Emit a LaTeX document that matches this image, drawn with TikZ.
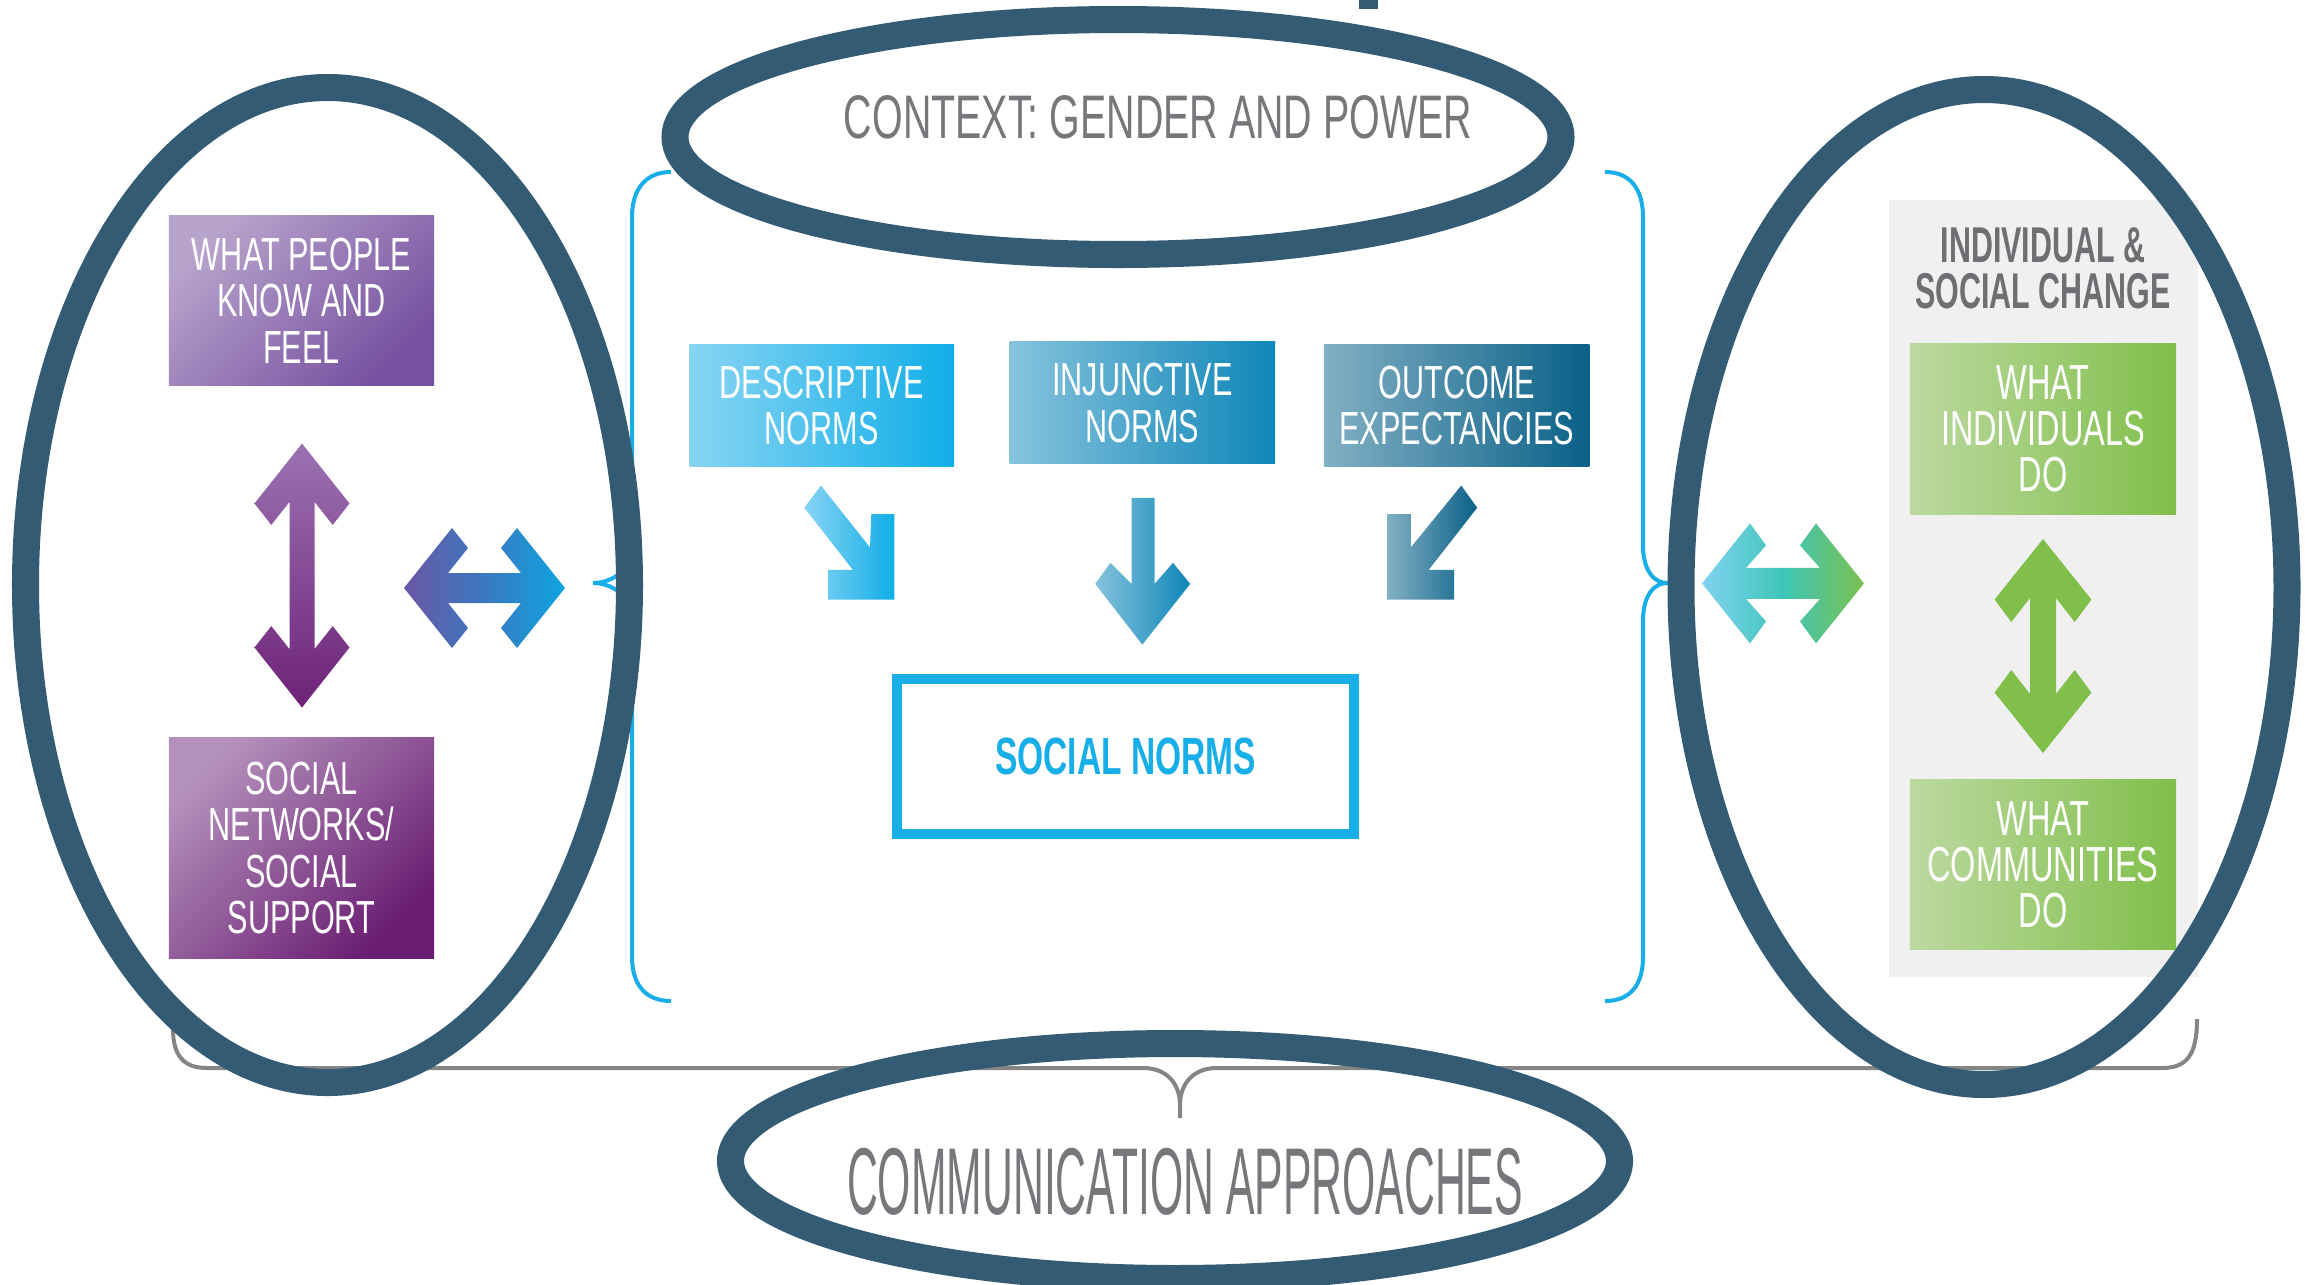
\documentclass[tikz,border=0pt]{standalone}
\usepackage{fontspec}
\setmainfont{Liberation Sans}
\newfontfamily\cnd[FakeStretch=0.66]{Liberation Sans}
\newfontfamily\cndt[FakeStretch=0.64]{Liberation Sans}
\newfontfamily\cndi[FakeStretch=0.605]{Liberation Sans}
\newfontfamily\cndx[FakeStretch=0.45]{Liberation Sans}
\definecolor{ring}{HTML}{335B74}
\definecolor{brc}{HTML}{18AEE8}
\definecolor{gry}{HTML}{858585}
\definecolor{ttl}{HTML}{77777B}
\definecolor{ttlb}{HTML}{6F6F73}
\definecolor{panel}{HTML}{F0F0F0}
\definecolor{pA}{HTML}{B8A3CC}
\definecolor{pB}{HTML}{7651A0}
\definecolor{pC}{HTML}{B490BC}
\definecolor{pD}{HTML}{6A1E72}
\definecolor{dA}{HTML}{88D4F3}
\definecolor{dB}{HTML}{10AEE8}
\definecolor{iA}{HTML}{86C3DD}
\definecolor{iB}{HTML}{0E86B8}
\definecolor{oA}{HTML}{82B0C4}
\definecolor{oB}{HTML}{0A6088}
\definecolor{gA}{HTML}{BCD9A0}
\definecolor{gB}{HTML}{80BF4A}
\definecolor{vA}{HTML}{9C72B2}
\definecolor{vB}{HTML}{6E2278}
\definecolor{hA}{HTML}{6A58A6}
\definecolor{hM}{HTML}{3A78C0}
\definecolor{hB}{HTML}{0FA5E0}
\definecolor{kA}{HTML}{80D2F0}
\definecolor{kM}{HTML}{3EC6B8}
\definecolor{kB}{HTML}{7CC050}
% horizontal double arrow: L, ao, po, ai, pi, aj, s, style
\newcommand\hdbl[8]{\shade[#8] (-#1,0) -- ({-#1+#2},{-#3}) -- ({-#1+#4},{-#5}) -- ({-#1+#6},{-#7}) -- ({#1-#6},{-#7}) -- ({#1-#4},{-#5}) -- ({#1-#2},{-#3}) -- (#1,0) -- ({#1-#2},{#3}) -- ({#1-#4},{#5}) -- ({#1-#6},{#7}) -- ({-#1+#6},{#7}) -- ({-#1+#4},{#5}) -- ({-#1+#2},{#3}) -- cycle;}
% vertical double arrow
\newcommand\vdbl[8]{\shade[#8] (0,-#1) -- ({-#3},{-#1+#2}) -- ({-#5},{-#1+#4}) -- ({-#7},{-#1+#6}) -- ({-#7},{#1-#6}) -- ({-#5},{#1-#4}) -- ({-#3},{#1-#2}) -- (0,#1) -- ({#3},{#1-#2}) -- ({#5},{#1-#4}) -- ({#7},{#1-#6}) -- ({#7},{-#1+#6}) -- ({#5},{-#1+#4}) -- ({#3},{-#1+#2}) -- cycle;}
\tikzset{
  wbox/.style={inner sep=0pt, outer sep=0pt, text=white, align=center, font=\cnd\fontsize{13.2pt}{13.2pt}\selectfont},
  gbox/.style={wbox, left color=gA, right color=gB, minimum width=2.66cm, font=\cnd\fontsize{14pt}{13.1pt}\selectfont},
  ringline/.style={draw=ring, line width=0.27cm},
  bracecyan/.style={draw=brc, line width=0.04cm},
  bracegrey/.style={draw=gry, line width=0.04cm},
}
\begin{document}
\begin{tikzpicture}[x=0.01cm,y=-0.01cm]
\useasboundingbox (0,0) rectangle (2305,1284);
\fill[white] (0,0) rectangle (2305,1284);

% grey panel on the right
\fill[panel] (1888.5,200) rectangle (2198,976.6);

% left column
\node (know) [wbox, left color=pA, right color=pB, shading angle=45, minimum width=2.65cm, minimum height=1.69cm] at (301.5,300.5) {WHAT PEOPLE\\KNOW AND\\FEEL};
\node (net) [wbox, left color=pC, right color=pD, shading angle=45, minimum width=2.65cm, minimum height=2.2cm] at (301.5,848) {SOCIAL\\NETWORKS/\\SOCIAL\\SUPPORT};
\begin{scope}[shift={(302,575.5)}]
\vdbl{132}{60}{47.5}{81.4}{30.7}{58.4}{12.5}{top color=vA, bottom color=vB}
\end{scope}
\begin{scope}[shift={(484.5,588)}]
\hdbl{80.5}{48}{60}{64}{40}{44}{15}{left color=hA, right color=hB, middle color=hM}
\end{scope}

% centre boxes
\node (desc) [wbox, left color=dA, right color=dB, minimum width=2.645cm, minimum height=1.217cm] at (821.7,405.5) {DESCRIPTIVE\\NORMS};
\node (inj) [wbox, left color=iA, right color=iB, minimum width=2.653cm, minimum height=1.221cm] at (1142.4,402.9) {INJUNCTIVE\\NORMS};
\node (outc) [wbox, left color=oA, right color=oB, minimum width=2.654cm, minimum height=1.217cm] at (1456.7,405.5) {OUTCOME\\EXPECTANCIES};

% centre arrows
\shade[left color=dA, right color=dB] (820.9,485.6) -- (870,547.4) -- (871.3,514) -- (894.3,514) -- (894.3,599.6) -- (828,599.6) -- (828,569.8) -- (852.8,569.8) -- (804.3,507.7) -- cycle;
\shade[left color=iA, right color=iB] (1131.5,497.9) -- (1154.5,497.9) -- (1154.5,583.9) -- (1173,562.8) -- (1190.2,583.9) -- (1142.3,644.6) -- (1095.2,583.9) -- (1110.5,562.8) -- (1131.5,583.9) -- cycle;
\shade[left color=oA, right color=oB] (1461.2,485.6) -- (1477.2,507.7) -- (1428.7,569.8) -- (1454.2,569.8) -- (1454.2,599.6) -- (1387.2,599.6) -- (1387.2,514) -- (1410.8,514) -- (1410.8,547.4) -- cycle;

\node (sn) [draw=brc, line width=0.1cm, minimum width=4.57cm, minimum height=1.556cm, inner sep=0pt, text=brc, font=\cndt\bfseries\fontsize{14.9pt}{15pt}\selectfont] at (1125.7,756.5) {SOCIAL NORMS};

% right column
\node (isc) [inner sep=0pt, align=center, text=ttlb, font=\cndi\bfseries\fontsize{14.3pt}{13.1pt}\selectfont] at (2043,268.5) {INDIVIDUAL \&\\SOCIAL CHANGE};
\node (ind) [gbox, minimum height=1.715cm] at (2043,428.8) {WHAT\\INDIVIDUALS\\DO};
\node (com) [gbox, minimum height=1.69cm] at (2043,864.5) {WHAT\\COMMUNITIES\\DO};
\begin{scope}[shift={(2043,646)}]
\vdbl{107}{60.5}{48.4}{83}{31.7}{59}{13}{top color=gB, bottom color=gB}
\end{scope}
\begin{scope}[shift={(1783,583.4)}]
\hdbl{81}{48}{60}{64}{38}{44}{15.5}{left color=kA, right color=kB, middle color=kM}
\end{scope}

% cyan braces
\draw[bracecyan] (671,172) .. controls (645,172) and (632,190) .. (632,217) -- (632,545) .. controls (632,572) and (610,583) .. (593,583) .. controls (610,583) and (632,594) .. (632,621) -- (632,957) .. controls (632,984) and (645,1001) .. (671,1001);
\draw[bracecyan] (1605,172) .. controls (1631,172) and (1643,190) .. (1643,217) -- (1643,545) .. controls (1643,572) and (1655,583) .. (1667,583) .. controls (1655,583) and (1643,594) .. (1643,621) -- (1643,957) .. controls (1643,984) and (1631,1001) .. (1605,1001);

% grey brace
\draw[bracegrey] (173,1029) .. controls (173,1056) and (184,1068) .. (207,1068) -- (1143,1068) .. controls (1168,1068) and (1180,1085) .. (1180,1105) -- (1180,1118);
\draw[bracegrey] (1180,1105) .. controls (1180,1085) and (1192,1068) .. (1217,1068) -- (2162,1068) .. controls (2186,1068) and (2197,1056) .. (2197,1019);

% rings
\draw[ringline] (327.5,585) ellipse [x radius=302, y radius=497.5];
\draw[ringline] (1984,587) ellipse [x radius=303, y radius=497.5];
\draw[ringline] (1118,137) ellipse [x radius=443, y radius=117.5];
\draw[ringline] (1175,1161) ellipse [x radius=444.5, y radius=117.5];
\fill[ring] (1359,0) rectangle (1378,9);

\node (ctx) [inner sep=0pt, text=ttl, font=\cndt\fontsize{17.5pt}{18pt}\selectfont] at (1158,117) {CONTEXT: GENDER AND POWER};
\node (comm) [inner sep=0pt, text=ttl, font=\cndx\fontsize{27pt}{28pt}\selectfont] at (1185,1182) {COMMUNICATION APPROACHES};
\end{tikzpicture}
\end{document}
